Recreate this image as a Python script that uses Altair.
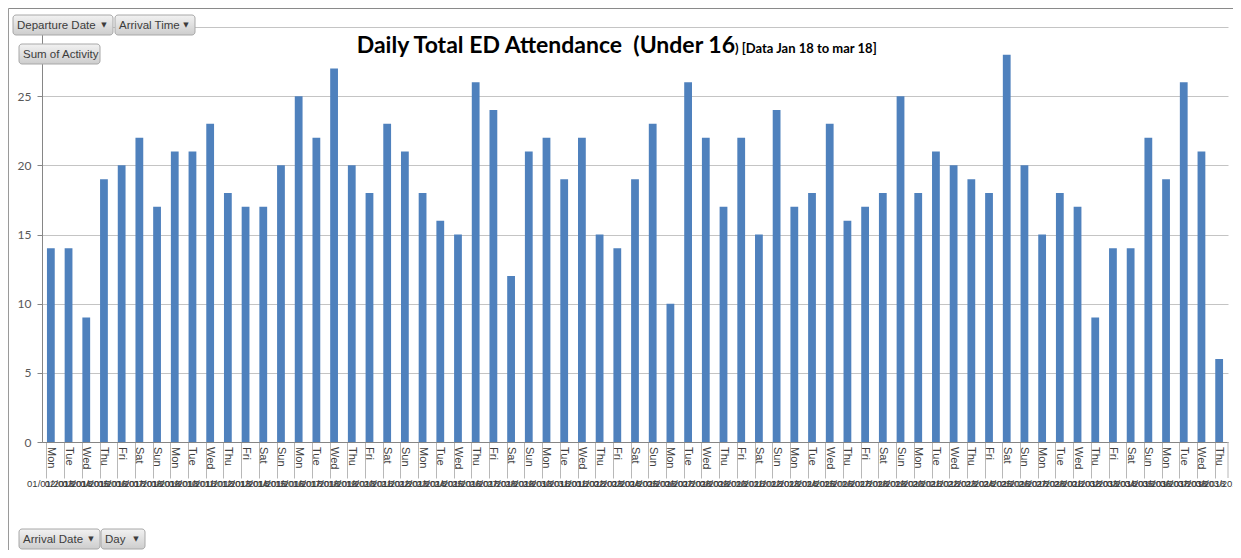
import altair as alt
import pandas as pd

# ---- data ----
start_date = "2018-01-01"
n_days = 67
activity = [14, 14, 9, 19, 20, 22, 17, 21, 21, 23,
            18, 17, 17, 20, 25, 22, 27, 20, 18, 23,
            21, 18, 16, 15, 26, 24, 12, 21, 22, 19,
            22, 15, 14, 19, 23, 10, 26, 22, 17, 22,
            15, 24, 17, 18, 23, 16, 17, 18, 25, 18,
            21, 20, 19, 18, 28, 20, 15, 18, 17, 9,
            14, 14, 22, 19, 26, 21, 6]
y_ticks = [0, 5, 10, 15, 20, 25, 30]
title_main = "Daily Total ED Attendance \u00a0(Under 16"
title_sub = ") [Data Jan 18 to mar 18]"

dates = pd.date_range(start_date, periods=n_days)
df = pd.DataFrame({
    "date": dates.strftime("%d/%m/%Y"),
    "day": dates.strftime("%a"),
    "value": activity,
})

W, H = 1186, 415
BTN_FONT = "Liberation Sans"
TXT = "#404040"

xenc = alt.X("date:N", sort=None,
             scale=alt.Scale(paddingInner=0.56, paddingOuter=0.28),
             axis=alt.Axis(labels=False, title=None, ticks=True, tickSize=36,
                           tickColor="#b8b8b8", bandPosition=0,
                           domainColor="#868686", grid=False))

yenc = alt.Y("value:Q",
             scale=alt.Scale(domain=[0, 30], nice=False),
             axis=alt.Axis(values=y_ticks, title=None, grid=True,
                           gridColor="#c4c4c4", domainColor="#868686",
                           tickColor="#868686", tickSize=5, labelPadding=6,
                           labelFontSize=12, labelColor="#595959",
                           labelFont="Lato",
                           labelExpr="datum.value == 30 ? '' : datum.label"))

bars = alt.Chart(df).mark_bar(color="#4F81BD").encode(x=xenc, y=yenc)

day_text = alt.Chart(df).mark_text(angle=90, align="left", baseline="middle",
                                   fontSize=11, color=TXT, font="Liberation Sans").encode(
    x=alt.X("date:N", sort=None), y=alt.value(H + 5), text="day:N")

date_text = alt.Chart(df).mark_text(align="center", baseline="middle",
                                    fontSize=9.5, color="#3a3a3a", font="Liberation Sans").encode(
    x=alt.X("date:N", sort=None), y=alt.value(H + 42), text="date:N")

one = pd.DataFrame({"k": [0]})
end_sep = alt.Chart(one).mark_rule(color="#b8b8b8").encode(
    x=alt.value(W), y=alt.value(H), y2=alt.value(H + 36))

frame_left = alt.Chart(one).mark_rule(color="#9a9a9a").encode(
    x=alt.value(-33.5), y=alt.value(-18.5), y2=alt.value(H + 108))
frame_top = alt.Chart(one).mark_rule(color="#8a8a8a").encode(
    x=alt.value(-33.5), x2=alt.value(W + 5), y=alt.value(-18.5))

t_main = alt.Chart(pd.DataFrame({"t": [title_main]})).mark_text(
    align="right", baseline="alphabetic", fontSize=23, fontWeight="bold",
    font="Lato, sans-serif", color="#000000").encode(
    x=alt.value(693), y=alt.value(26), text="t:N")
t_sub = alt.Chart(pd.DataFrame({"t": [title_sub]})).mark_text(
    align="left", baseline="alphabetic", fontSize=13, fontWeight="bold",
    font="Lato, sans-serif", color="#000000").encode(
    x=alt.value(693), y=alt.value(26), text="t:N")

grad = alt.LinearGradient(gradient="linear",
                          stops=[alt.GradientStop(color="#f2f2f2", offset=0),
                                 alt.GradientStop(color="#cdcdcd", offset=1)],
                          x1=0, x2=0, y1=0, y2=1)


def button(label, x0, x1, y0, y1, arrow=True):
    base = alt.Chart(pd.DataFrame({"t": [label]}))
    rect = base.mark_rect(cornerRadius=3, fill=grad, stroke="#a8a8a8",
                          strokeWidth=1).encode(
        x=alt.value(x0), x2=alt.value(x1), y=alt.value(y0), y2=alt.value(y1))
    txt = base.mark_text(align="left", baseline="middle", fontSize=11.5,
                         color="#3c3c3c", font=BTN_FONT).encode(
        x=alt.value(x0 + 4), y=alt.value((y0 + y1) / 2 + 0.5), text="t:N")
    out = [rect, txt]
    if arrow:
        arr = alt.Chart(pd.DataFrame({"t": ["\u25BC"]})).mark_text(
            align="center", baseline="middle", fontSize=7, color="#3c3c3c",
            font="DejaVu Sans").encode(
            x=alt.value(x1 - 9), y=alt.value((y0 + y1) / 2), text="t:N")
        out.append(arr)
    return out


buttons = []
buttons += button("Departure Date", -29, 71, -12, 8)
buttons += button("Arrival Time", 73, 153, -12, 8)
buttons += button("Sum of Activity", -23, 58, 17, 37, arrow=False)
buttons += button("Arrival Date", -23, 58, 502, 522)
buttons += button("Day", 59, 103, 502, 522)

chart = alt.layer(
    bars, day_text, date_text, end_sep, frame_left, frame_top,
    t_main, t_sub, *buttons
).properties(
    width=W, height=H,
    padding={"left": 34, "top": 19, "right": 5, "bottom": 108},
    autosize=alt.AutoSizeParams(type="none"),
    background="white",
).configure_view(stroke=None)

chart.save("out.html", embed_options={"renderer": "svg", "actions": False})
